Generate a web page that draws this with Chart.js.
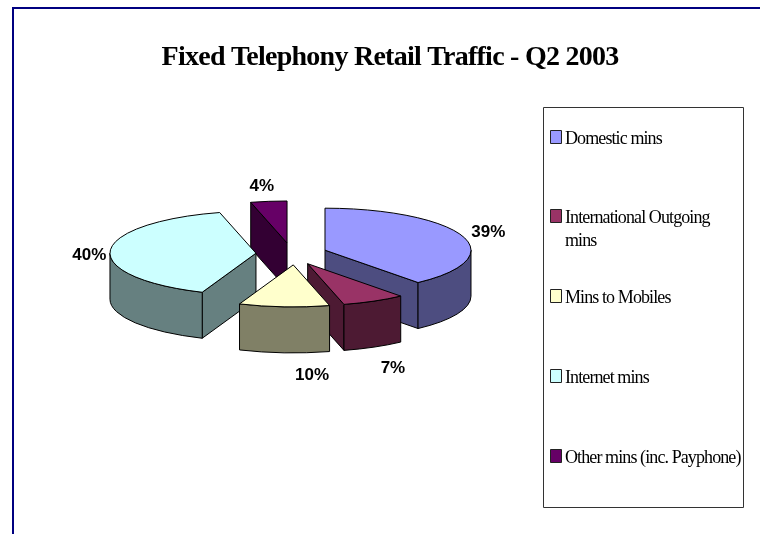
<!DOCTYPE html>
<html>
<head>
<meta charset="utf-8">
<style>html,body{margin:0;padding:0;background:#fff}canvas{display:block}</style>
<script src="https://cdn.jsdelivr.net/npm/chart.js@4"></script>
</head>
<body>
<canvas id="c" width="760" height="534"></canvas>
<script>
const categories = ['Domestic mins','International Outgoing mins','Mins to Mobiles','Internet mins','Other mins (inc. Payphone)'];
const legendLines = [['Domestic mins'],['International Outgoing','mins'],['Mins to Mobiles'],['Internet mins'],['Other mins (inc. Payphone)']];
const shares = [39,7,10,40,4];
const topColors = ['#9999FF','#993366','#FFFFCC','#CCFFFF','#660066'];
const sideColors = ['#4D4D80','#4D1A33','#808066','#668080','#330033'];
const chartTitle = 'Fixed Telephony Retail Traffic - Q2 2003';

const RADIUS = 146, SQUASH = 42/146, DEPTH = 46, EXPLODE_X = 35.6, EXPLODE_Y = 11;
const paintOrder = [4,0,3,1,2];
const sliceNudgeX = [0,0,4,0,0];
const labelNudge = [[26,-4],[19,67],[28,69],[-21,5],[-7,-15]];
const legendBaselines = [144,223,303,383,463];

function slicePose(arc,i){
  const mid=(arc.startAngle+arc.endAngle)/2;
  return {ax:arc.x+Math.cos(mid)*EXPLODE_X+sliceNudgeX[i], ay:arc.y+Math.sin(mid)*EXPLODE_Y, mid};
}
const pie3d={
  id:'pie3d',
  beforeDraw(chart){
    const c=chart.ctx;
    c.fillStyle='#fff';c.fillRect(0,0,760,534);
    c.fillStyle='#000080';c.fillRect(12,7,748,2);c.fillRect(12,7,2,527);
    c.letterSpacing='-0.75px';
  },
  afterLayout(chart){
    const t=chart.titleBlock;t.left=20;t.right=760;t.width=740;
  },
  beforeDatasetsDraw(chart){
    const c=chart.ctx, arcs=chart.getDatasetMeta(0).data;
    c.save();
    c.letterSpacing='0px';
    c.lineWidth=1;c.strokeStyle='#000';c.lineJoin='round';
    paintOrder.forEach(i=>{
      const arc=arcs[i],{ax,ay}=slicePose(arc,i);
      const s=arc.startAngle,e=arc.endAngle,ry=RADIUS*SQUASH;
      const rim=a=>[ax+Math.cos(a)*RADIUS,ay+Math.sin(a)*ry];
      c.fillStyle=sideColors[i];
      const quad=a=>{const p=rim(a);c.beginPath();c.moveTo(ax,ay);c.lineTo(p[0],p[1]);c.lineTo(p[0],p[1]+DEPTH);c.lineTo(ax,ay+DEPTH);c.closePath();c.fill();c.stroke();};
      if(Math.cos(s)<-1e-6)quad(s);
      if(Math.cos(e)>1e-6)quad(e);
      const a0=Math.max(s,0),a1=Math.min(e,Math.PI);
      if(a1>a0){c.beginPath();c.ellipse(ax,ay,RADIUS,ry,0,a0,a1);c.ellipse(ax,ay+DEPTH,RADIUS,ry,0,a1,a0,true);c.closePath();c.fill();c.stroke();}
      c.save();
      c.translate(ax,ay);c.scale(1,SQUASH);c.translate(-arc.x,-arc.y);
      arc.draw(c);
      c.restore();
      c.beginPath();c.moveTo(ax,ay);c.ellipse(ax,ay,RADIUS,ry,0,s,e);c.closePath();c.stroke();
    });
    c.fillStyle='#000';c.font='bold 17px "Liberation Sans"';c.textAlign='center';c.textBaseline='middle';
    arcs.forEach((arc,i)=>{
      const {ax,ay,mid}=slicePose(arc,i);
      c.fillText(shares[i]+'%',ax+Math.cos(mid)*RADIUS+labelNudge[i][0],ay+Math.sin(mid)*RADIUS*SQUASH+labelNudge[i][1]);
    });
    c.strokeStyle='#333';c.strokeRect(543.5,107.5,200,400);
    c.textAlign='left';c.textBaseline='alphabetic';c.letterSpacing='-0.9px';c.font='18px "Liberation Serif"';
    legendLines.forEach((lines,i)=>{
      const b=legendBaselines[i];
      c.fillStyle=topColors[i];c.fillRect(550.5,b-13.5,11,13);
      c.strokeStyle='#222';c.strokeRect(550.5,b-13.5,11,13);
      c.fillStyle='#000';
      lines.forEach((t,j)=>c.fillText(t,565,b+j*23));
    });
    c.restore();
    return false;
  }
};
new Chart(document.getElementById('c'),{
  type:'pie',
  data:{labels:categories,datasets:[{data:shares,backgroundColor:topColors,borderWidth:0}]},
  options:{
    responsive:false,animation:false,radius:RADIUS,
    layout:{padding:{left:20,right:197,top:0,bottom:108}},
    plugins:{
      legend:{display:false},tooltip:{enabled:false},
      title:{display:true,text:chartTitle,color:'#000',font:{family:'"Liberation Serif"',size:28,weight:'bold'},padding:{top:41,bottom:7.2}}
    }
  },
  plugins:[pie3d]
});
</script>
</body>
</html>
